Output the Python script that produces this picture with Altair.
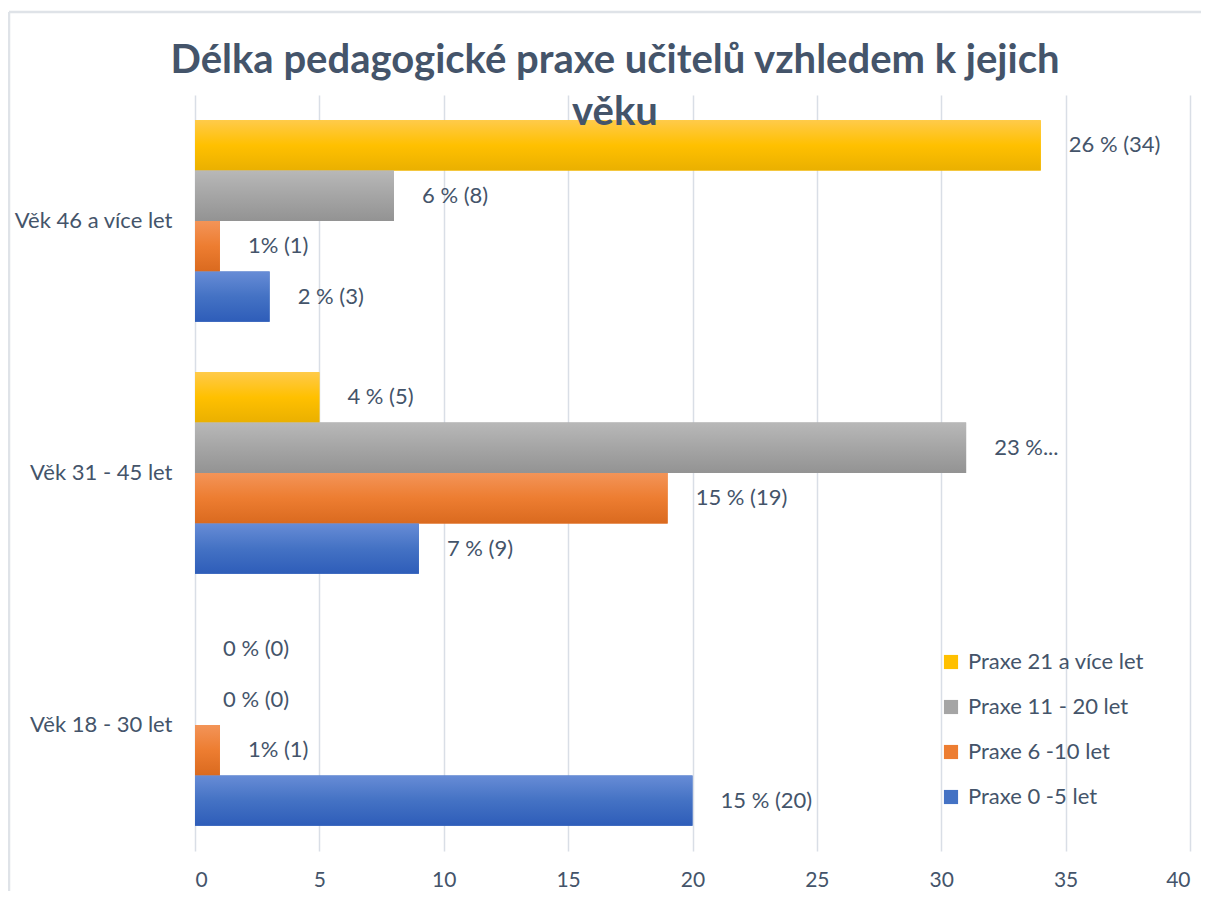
import altair as alt
import pandas as pd

# ---- data ----
categories = ["Věk 46 a více let", "Věk 31 - 45 let", "Věk 18 - 30 let"]
series = ["Praxe 21 a více let", "Praxe 11 - 20 let", "Praxe 6 -10 let", "Praxe 0 -5 let"]
values_21 = [34, 5, 0]
values_11 = [8, 31, 0]
values_6 = [1, 19, 1]
values_0 = [3, 9, 20]
labels_21 = ["26 % (34)", "4 % (5)", "0 % (0)"]
labels_11 = ["6 % (8)", "23 %...", "0 % (0)"]
labels_6 = ["1% (1)", "15 % (19)", "1% (1)"]
labels_0 = ["2 % (3)", "7 % (9)", "15 % (20)"]
x_ticks = [0, 5, 10, 15, 20, 25, 30, 35, 40]

# ---- styles ----
colors = ["#FFC000", "#A5A5A5", "#ED7D31", "#4472C4"]
gradients = [
    ["#FFCA4A", "#FFC000", "#EAB000"],
    ["#B8B8B8", "#A5A5A5", "#939393"],
    ["#F39458", "#ED7D31", "#DA6A1F"],
    ["#678CD6", "#4472C4", "#2E5DB9"],
]
TXT = "#44546A"
GRID = "#D9DEE6"
FONT = "Lato"

rows = []
for s, vals, labs in zip(series, [values_21, values_11, values_6, values_0],
                         [labels_21, labels_11, labels_6, labels_0]):
    for c, v, l in zip(categories, vals, labs):
        rows.append({"category": c, "series": s, "value": v, "label": l})
df = pd.DataFrame(rows)

y_enc = alt.Y("category:N", sort=categories,
              scale=alt.Scale(paddingInner=0.2, paddingOuter=0.1),
              axis=alt.Axis(title=None, labelFontSize=22, labelColor=TXT, labelFont=FONT,
                            labelPadding=23, domain=False, ticks=False, labelLimit=400))
yoff_enc = alt.YOffset("series:N", sort=series,
                       scale=alt.Scale(domain=series, paddingInner=0, paddingOuter=0))
x_enc = alt.X("value:Q", scale=alt.Scale(domain=[0, 40]),
              axis=alt.Axis(values=x_ticks, title=None, grid=True, gridColor=GRID, gridWidth=1.5,
                            domain=False, ticks=False, labelFontSize=21, labelFont=FONT,
                            labelColor=TXT, labelPadding=18))

base = alt.Chart(df).encode(y=y_enc, yOffset=yoff_enc, x=x_enc)

solid = base.mark_bar().encode(
    color=alt.Color("series:N", sort=series,
                    scale=alt.Scale(domain=series, range=colors),
                    legend=alt.Legend(title=None, orient="none", legendX=745, legendY=556,
                                      symbolType="square", symbolSize=200, symbolStrokeWidth=0,
                                      labelFontSize=22, labelFont=FONT, labelColor=TXT,
                                      rowPadding=23, labelOffset=6, labelLimit=400))
)

grad_layers = []
for s, g in zip(series, gradients):
    grad_layers.append(
        base.transform_filter(alt.datum.series == s).mark_bar(
            color=alt.Gradient(gradient="linear", x1=0, x2=0, y1=0, y2=1,
                               stops=[alt.GradientStop(color=g[0], offset=0),
                                      alt.GradientStop(color=g[1], offset=0.5),
                                      alt.GradientStop(color=g[2], offset=1)])
        )
    )

text = base.mark_text(align="left", baseline="middle", dx=28, fontSize=22, font=FONT,
                      color=TXT).encode(text="label:N")

frame_df = pd.DataFrame({"k": [0]})
frame_top = alt.Chart(frame_df).mark_rule(color="#DFE3E8", strokeWidth=2.5).encode(
    x=alt.value(-186), x2=alt.value(1030), y=alt.value(-83))
frame_left = alt.Chart(frame_df).mark_rule(color="#DFE3E8", strokeWidth=2.5).encode(
    x=alt.value(-186), y=alt.value(-83), y2=alt.value(830))

chart = alt.layer(frame_top, frame_left, solid, *grad_layers, text).properties(
    width=995, height=756,
    title=alt.TitleParams(text=["Délka pedagogické praxe učitelů vzhledem k jejich", "věku"],
                          fontSize=40, font=FONT, fontWeight="bold", color=TXT,
                          lineHeight=52, anchor="middle", frame="bounds", offset=-122, dx=-2),
    autosize=alt.AutoSizeParams(type="none"),
    padding={"left": 187, "top": 87, "right": 11, "bottom": 40},
).configure_view(stroke=None)

chart.save("out.html", embed_options={"renderer": "svg", "actions": False})
